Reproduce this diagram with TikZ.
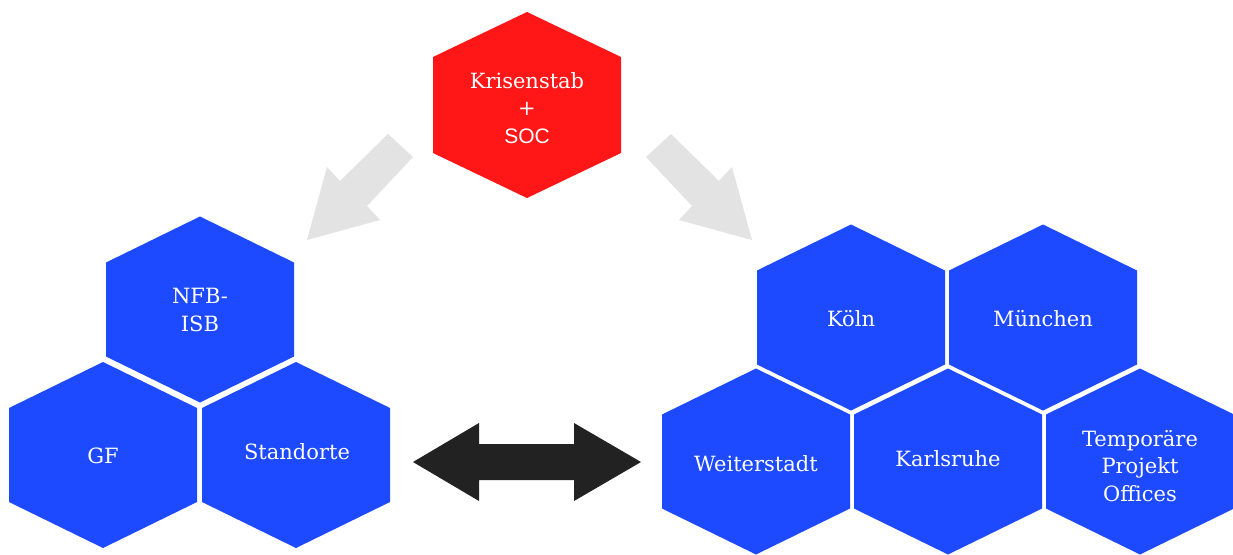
\documentclass[tikz,border=0pt]{standalone}
\usepackage{fontspec}
\setmainfont{DejaVu Serif}
\newfontfamily\socfont{Liberation Sans}
\definecolor{hexblue}{RGB}{30,74,255}
\definecolor{hexred}{RGB}{255,22,22}
\definecolor{arrgrey}{RGB}{227,227,227}
\definecolor{arrblack}{RGB}{34,34,34}
\newcommand\hexcell[3]{\fill[#1] (#2,#3) ++(0,-93) -- ++(94,46) -- ++(0,94) -- ++(-94,46) -- ++(-94,-46) -- ++(0,-94) -- cycle;}
\begin{document}
\begin{tikzpicture}[x=1pt,y=-1pt,
  lbl/.style={text=white, font=\fontsize{21}{27.5}\selectfont, align=center, inner sep=0pt},
  greyarrow/.style={fill=arrgrey},
  blackarrow/.style={fill=arrblack}]
\fill[white] (0,0) rectangle (1233,554);
\useasboundingbox (0,0) rectangle (1233,554);
\begin{scope}
\clip (0,0) rectangle (1233,554);
% red hexagon
\fill[hexred] (527,12) -- (621,57) -- (621,153) -- (527,198) -- (433,153) -- (433,57) -- cycle;
% left group
\hexcell{hexblue}{200}{309.5}
\hexcell{hexblue}{103}{455}
\hexcell{hexblue}{296}{455}
% right group
\hexcell{hexblue}{851}{317.5}
\hexcell{hexblue}{1043}{317.5}
\hexcell{hexblue}{756}{461.5}
\hexcell{hexblue}{948}{461.5}
\hexcell{hexblue}{1140}{461.5}
\end{scope}
% grey arrows
\fill[greyarrow] (307,240) -- (327,167) -- (340,181) -- (388,134) -- (413,157) -- (367,206) -- (380,220) -- cycle;
\fill[greyarrow] (752,240) -- (732,167) -- (719,181) -- (671,134) -- (646,157) -- (692,206) -- (679,220) -- cycle;
% black double arrow
\fill[blackarrow] (413,462) -- (479,423) -- (479,444) -- (574,444) -- (574,423) -- (641,462) -- (574,501) -- (574,480) -- (479,480) -- (479,501) -- cycle;
% labels
\node[lbl] (krisen) at (527,108) {Krisenstab\\+\\{\socfont SOC}};
\node[lbl] (nfb) at (200,310) {NFB-\\ISB};
\node[lbl] (gf) at (103,456) {GF};
\node[lbl] (standorte) at (297,452) {Standorte};
\node[lbl] (koeln) at (851,319) {Köln};
\node[lbl] (muenchen) at (1043,319) {München};
\node[lbl] (weiterstadt) at (756,464) {Weiterstadt};
\node[lbl] (karlsruhe) at (948,459) {Karlsruhe};
\node[lbl] (temp) at (1140,466) {Temporäre\\Projekt\\Offices};
\end{tikzpicture}
\end{document}
